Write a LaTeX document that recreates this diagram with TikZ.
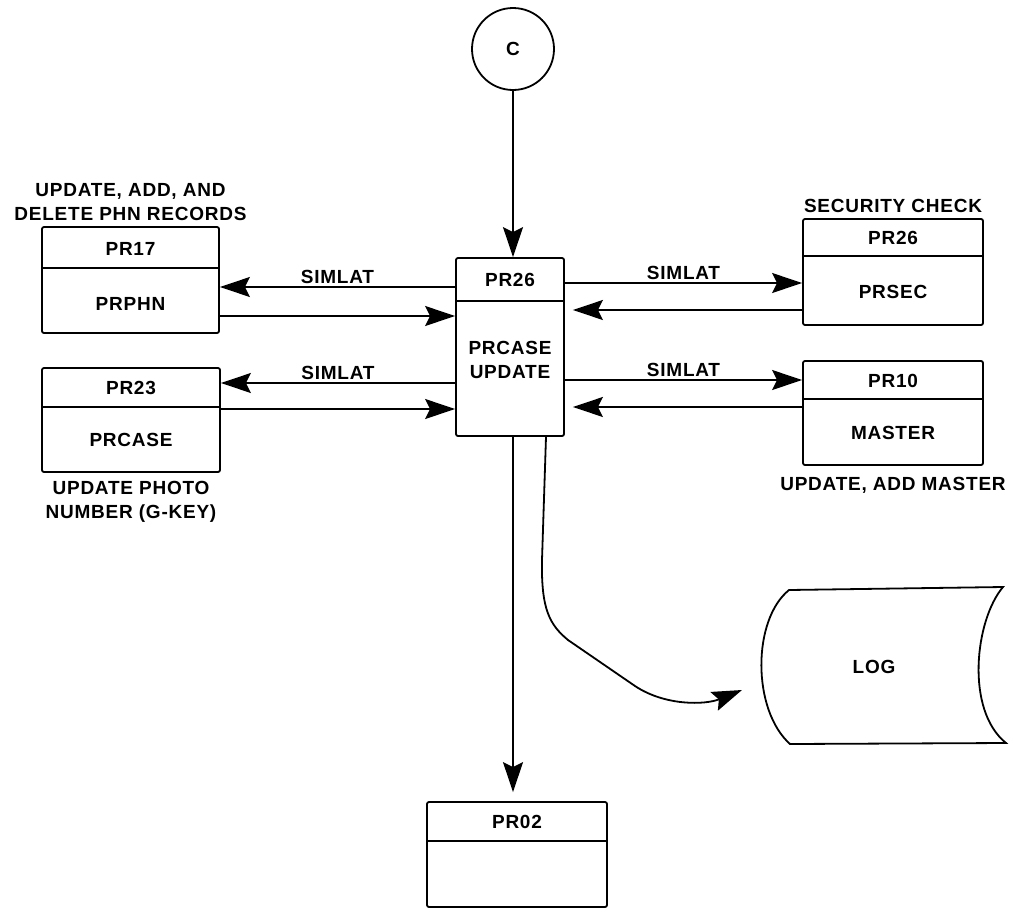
\documentclass[tikz,border=0pt]{standalone}
\usepackage{fontspec}
\setmainfont{Liberation Sans}[LetterSpace=4]
\usetikzlibrary{arrows.meta,positioning}

\begin{document}
\begin{tikzpicture}[
    x=1pt,
    y=-1pt,
    line width=1.8pt,
    box/.style={draw, rounded corners=2pt, inner sep=0pt},
    lbl/.style={font=\fontsize{19}{24}\selectfont\bfseries, inner sep=1pt, align=center},
    conn/.style={circle, draw, minimum size=82pt, inner sep=0pt, font=\fontsize{19}{24}\selectfont\bfseries},
    arr/.style={-{Stealth[length=30pt,width=20pt,inset=5pt]}}
]
\useasboundingbox (0,0) rectangle (1019,910);

\node[conn] (c) at (513,49) {C};

\node[box, minimum width=108pt, minimum height=178pt] (main) at (510,347) {};
\draw (main.west |- 0,301) -- (main.east |- 0,301);
\node[lbl] (mainid) at (510,280) {PR26};
\node[lbl] (mainname) at (510,360) {PRCASE\\UPDATE};

\node[box, minimum width=177pt, minimum height=106pt] (pr17) at (130.5,280) {};
\draw (pr17.west |- 0,268) -- (pr17.east |- 0,268);
\node[lbl] (pr17id) at (130.5,249) {PR17};
\node[lbl] (pr17name) at (130.5,304) {PRPHN};
\node[lbl, above=4pt of pr17] (pr17note) {UPDATE, ADD, AND\\DELETE PHN RECORDS};

\node[box, minimum width=178pt, minimum height=104pt] (pr23) at (131,420) {};
\draw (pr23.west |- 0,407) -- (pr23.east |- 0,407);
\node[lbl] (pr23id) at (131,388) {PR23};
\node[lbl] (pr23name) at (131,440) {PRCASE};
\node[lbl, below=6pt of pr23] (pr23note) {UPDATE PHOTO\\NUMBER (G-KEY)};

\node[box, minimum width=180pt, minimum height=106pt] (sec) at (893,272) {};
\draw (sec.west |- 0,256) -- (sec.east |- 0,256);
\node[lbl] (secid) at (893,238) {PR26};
\node[lbl] (secname) at (893,292) {PRSEC};
\node[lbl, above=4pt of sec] (secnote) {SECURITY CHECK};

\node[box, minimum width=180pt, minimum height=104pt] (mst) at (893,413) {};
\draw (mst.west |- 0,399) -- (mst.east |- 0,399);
\node[lbl] (mstid) at (893,381) {PR10};
\node[lbl] (mstname) at (893,433) {MASTER};
\node[lbl, below=9pt of mst] (mstnote) {UPDATE, ADD MASTER};

\node[box, minimum width=180pt, minimum height=105pt] (pr02) at (517,854.5) {};
\draw (pr02.west |- 0,841) -- (pr02.east |- 0,841);
\node[lbl] (pr02id) at (517,822) {PR02};

\draw (789,590) -- (1003,587) .. controls (975,620) and (965,710) .. (1006,743)
    -- (790,744) .. controls (752,710) and (752,620) .. (789,590) -- cycle;
\node[lbl] (log) at (874,667) {LOG};
\coordinate (logtip) at (742,690);

\draw[arr] (c.south) -- (c.south |- main.north);
\draw[arr] (main.west |- 0,287) -- (pr17.east |- 0,287) node[lbl, midway, above=1pt] (s1) {SIMLAT};
\draw[arr] (pr17.east |- 0,316) -- (main.west |- 0,316);
\draw[arr] (main.west |- 0,383) -- (pr23.east |- 0,383) node[lbl, midway, above=1pt] (s2) {SIMLAT};
\draw[arr] (pr23.east |- 0,409) -- (main.west |- 0,409);
\draw[arr] (main.east |- 0,283) -- (sec.west |- 0,283) node[lbl, midway, above=1pt] (s3) {SIMLAT};
\draw[arr, shorten >=8pt] (sec.west |- 0,310) -- (main.east |- 0,310);
\draw[arr] (main.east |- 0,380) -- (mst.west |- 0,380) node[lbl, midway, above=1pt] (s4) {SIMLAT};
\draw[arr, shorten >=8pt] (mst.west |- 0,407) -- (main.east |- 0,407);
\draw[arr, shorten >=9pt] ([xshift=3pt]main.south) -- ([xshift=3pt]main.south |- pr02.north);
\draw[arr] (main.south -| 546,0) -- (542,560) .. controls (541,610) and (550,625) .. (568,640)
    -- (635,686) .. controls (665,706) and (705,705) .. (logtip);
\end{tikzpicture}
\end{document}
